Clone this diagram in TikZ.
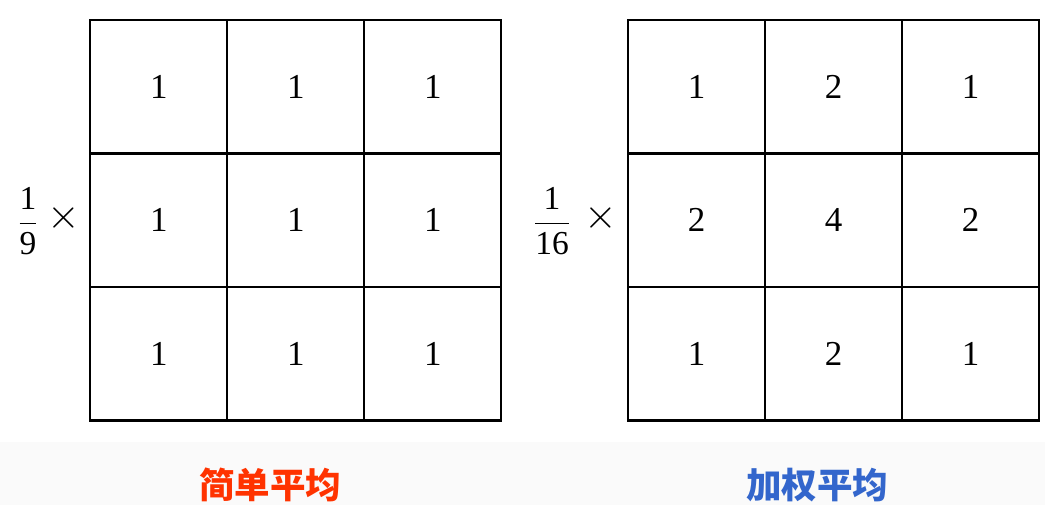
\documentclass[tikz,border=0pt]{standalone}
\usepackage{fontspec}
\setmainfont{Liberation Serif}
\newfontfamily\cjk{Noto Sans CJK SC}
\definecolor{redlab}{HTML}{FF3300}
\definecolor{bluelab}{HTML}{3366CC}
\definecolor{band}{HTML}{FAFAFA}
\begin{document}
\begin{tikzpicture}[x=1pt,y=-1pt,
  cell/.style={draw=black,line width=2.1pt,minimum width=137pt,minimum height=133.5pt,
    inner sep=0pt,font=\fontsize{35}{40}\selectfont},
  frac/.style={inner sep=0pt,scale=3.35},
  times/.style={inner sep=0pt,scale=4.2},
  lab/.style={font=\cjk\bfseries\fontsize{35.5}{40}\selectfont,inner sep=0pt}]
\useasboundingbox[fill=white] (0,0) rectangle (1045,513);
\fill[band] (0,442) rectangle (1045,505);
% grid 1
\foreach \c/\x in {1/158.75,2/295.75,3/432.75}{
  \foreach \r/\y in {1/86.75,2/220.25,3/353.75}{
    \node[cell] (a\r\c) at (\x,\y) {1};
  }
}
% grid 2
\foreach \c/\x in {1/696.5,2/833.5,3/970.5}{
  \foreach \r/\y/\va/\vb in {1/86.75/1/2,2/220.25/2/4,3/353.75/1/2}{
    \ifnum\c=2
      \node[cell] (b\r\c) at (\x,\y) {\vb};
    \else
      \node[cell] (b\r\c) at (\x,\y) {\va};
    \fi
  }
}
\node[frac] (fa) at (28,221) {$\displaystyle\frac{\mbox{1}}{\mbox{9}}$};
\node[times] (xa) at (64,218) {$\times$};
\node[frac] (fb) at (552,221) {$\displaystyle\frac{\mbox{1}}{\mbox{16}}$};
\node[times] (xb) at (601,218) {$\times$};
\node[lab,text=redlab] (la) at (270,485) {简单平均};
\node[lab,text=bluelab] (lb) at (817,485) {加权平均};
\end{tikzpicture}
\end{document}
